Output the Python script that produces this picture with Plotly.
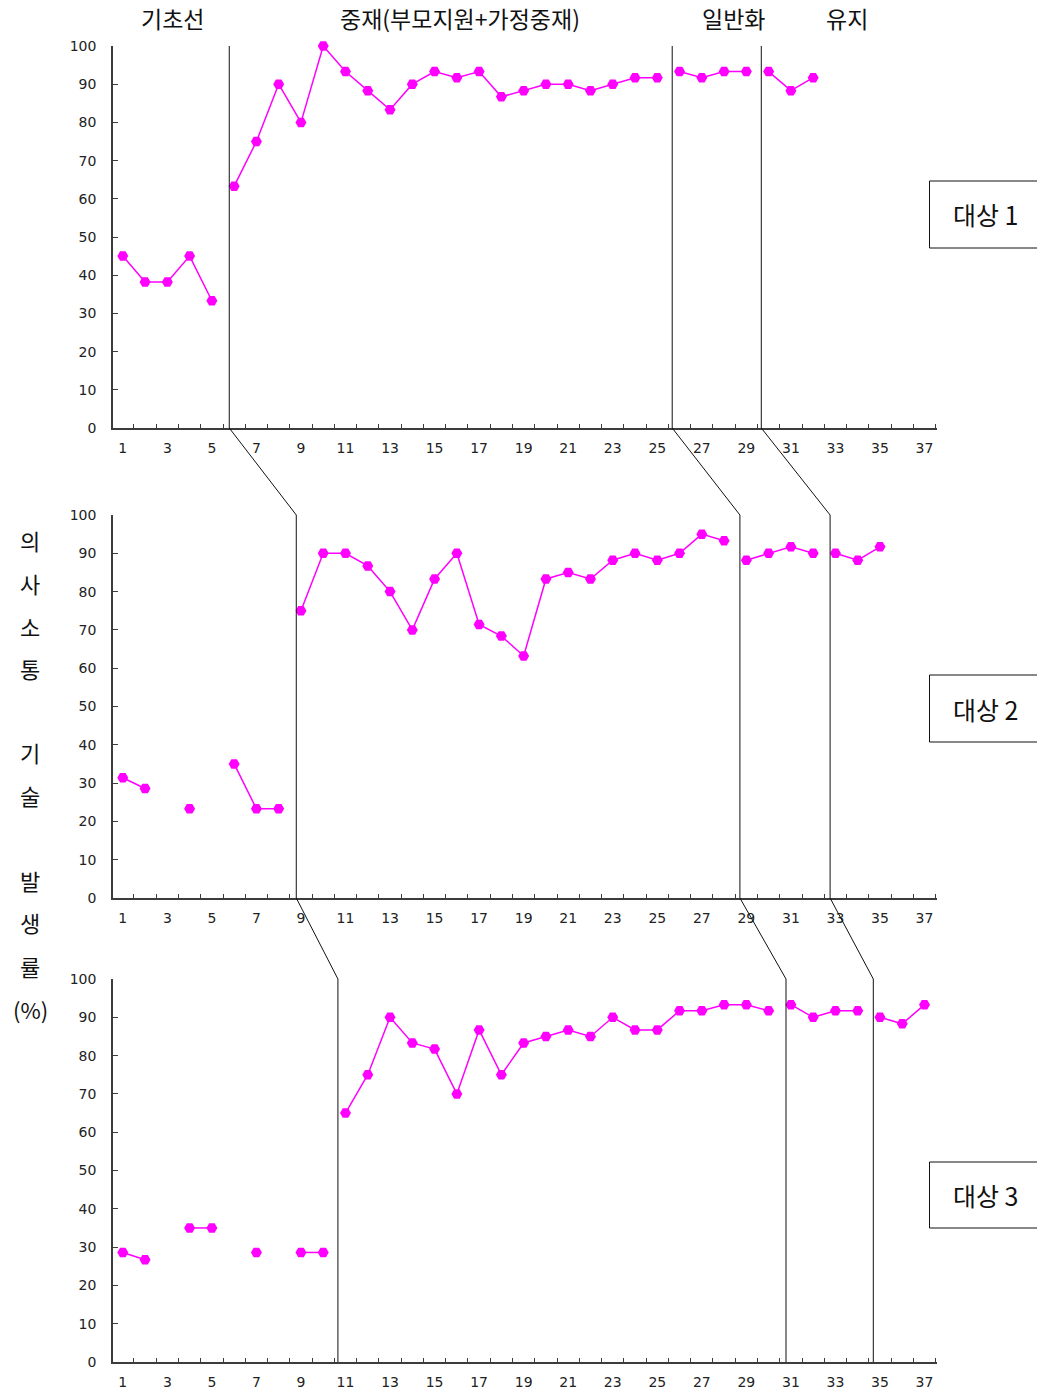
import plotly.graph_objects as go

# ---------------- data ----------------
sessions = list(range(1, 38))
x_tick_labels = [str(v) for v in range(1, 38, 2)]
y_ticks = list(range(0, 101, 10))

phase_names = ["기초선", "중재(부모지원+가정중재)", "일반화", "유지"]
subject_names = ["대상 1", "대상 2", "대상 3"]
y_title_chars = ["의", "사", "소", "통", "기", "술", "발", "생", "률", "(%)"]

s1_values = [45, 38.2, 38.2, 45, 33.3,
             63.3, 75, 90, 80, 100, 93.3, 88.3, 83.3, 90, 93.3, 91.7, 93.3, 86.7, 88.3, 90,
             90, 88.3, 90, 91.7, 91.7,
             93.3, 91.7, 93.3, 93.3,
             93.3, 88.3, 91.7]
s1_phase_starts = [1, 6, 26, 30]
s1_phase_lines = [5.78, 25.67, 29.67]

s2_values = [31.4, 28.6, None, 23.3, None, 35, 23.3, 23.3,
             75, 90, 90, 86.7, 80, 70, 83.3, 90, 71.4, 68.4, 63.2, 83.3,
             85, 83.3, 88.2, 90, 88.2, 90, 95, 93.3,
             88.2, 90, 91.7, 90,
             90, 88.2, 91.7]
s2_phase_starts = [1, 9, 29, 33]
s2_phase_lines = [8.79, 28.71, 32.76]

s3_values = [28.6, 26.7, None, 35, 35, None, 28.6, None, 28.6, 28.6,
             65, 75, 90, 83.3, 81.7, 70, 86.7, 75, 83.3, 85,
             86.7, 85, 90, 86.7, 86.7, 91.7, 91.7, 93.3, 93.3, 91.7,
             93.3, 90, 91.7, 91.7,
             90, 88.3, 93.3]
s3_phase_starts = [1, 11, 31, 35]
s3_phase_lines = [10.66, 30.78, 34.7]

subjects = [
    (s1_values, s1_phase_starts, s1_phase_lines),
    (s2_values, s2_phase_starts, s2_phase_lines),
    (s3_values, s3_phase_starts, s3_phase_lines),
]

# ---------------- layout geometry ----------------
REF_W, REF_H = 1037, 1393
VS = 1402.5 / 1393.0          # vertical compensation for the capture
W, H = REF_W, int(round(REF_H * VS))
ML, MR = 113, 100
MT = 46 * VS
MB = H - 1362 * VS
PW = W - ML - MR
PH = H - MT - MB


def px(p):
    return (p - ML) / PW


def py(p):
    return (H - MB - p * VS) / PH


panel_px = [(46, 428), (515, 898), (979, 1362)]  # top, bottom in reference pixels
domains = [[max(0.0, py(b)), min(1.0, py(t))] for t, b in panel_px]
box_px = [(181, 248), (675, 742), (1162, 1228)]

MAG = "#FF00FF"
AXC = "#3c3c3c"
tick_font = dict(family="DejaVu Sans, Verdana, sans-serif", size=14, color="#222")
kr_font = "Noto Sans CJK KR, Noto Sans CJK SC, sans-serif"

fig = go.Figure()
shapes = []
annotations = []

for i, (vals, starts, lines) in enumerate(subjects):
    ax = "" if i == 0 else str(i + 1)
    n = len(vals)
    bounds = starts + [n + 1]
    for k in range(len(starts)):
        a, b = bounds[k], bounds[k + 1]
        xs = sessions[a - 1:b - 1]
        ys = vals[a - 1:b - 1]
        fig.add_trace(go.Scatter(
            x=xs, y=ys, mode="lines+markers",
            line=dict(color=MAG, width=1.5),
            marker=dict(color=MAG, size=11, symbol="hexagon2"),
            connectgaps=False, cliponaxis=False, showlegend=False,
            hoverinfo="skip",
            xaxis="x" + ax, yaxis="y" + ax,
        ))

    fig.update_layout(**{
        "xaxis" + ax: dict(
            domain=[0, 1], anchor="y" + ax, range=[0.56, 37.56],
            tickmode="array", tickvals=list(range(1, 38, 2)), ticktext=x_tick_labels,
            ticks="", showgrid=False, zeroline=False,
            showline=True, linecolor=AXC, linewidth=1.5,
            tickfont=tick_font, ticklabelstandoff=6,
            minor=dict(tickmode="linear", tick0=0.5, dtick=1, ticks="inside",
                       ticklen=4, tickcolor=AXC, tickwidth=1, showgrid=False),
        ),
        "yaxis" + ax: dict(
            domain=domains[i], anchor="x" + ax, range=[0, 100],
            tickmode="array", tickvals=y_ticks,
            ticks="inside", ticklen=5, tickcolor=AXC, tickwidth=1,
            showgrid=False, zeroline=False,
            showline=True, linecolor=AXC, linewidth=1.5,
            tickfont=tick_font, ticklabelstandoff=12,
        ),
    })

    # phase change lines (vertical within panel)
    for lx in lines:
        shapes.append(dict(type="line", xref="x" + ax, yref="y" + ax,
                           x0=lx, x1=lx, y0=0, y1=100,
                           line=dict(color="#111", width=1)))

    # subject label box
    bt, bb = box_px[i]
    annotations.append(dict(
        text=subject_names[i], xref="paper", yref="paper",
        x=px(985), y=py((bt + bb) / 2), xanchor="center", yanchor="middle",
        showarrow=False, font=dict(family=kr_font, size=25, color="#111")))
    shapes.append(dict(type="rect", xref="paper", yref="paper",
                       x0=px(929.5), x1=px(1045), y0=py(bb), y1=py(bt),
                       line=dict(color="#111", width=1), fillcolor="rgba(0,0,0,0)"))

# diagonal connectors between panels
for i in range(2):
    for la, lb in zip(subjects[i][2], subjects[i + 1][2]):
        shapes.append(dict(type="line", xref="x", yref="paper",
                           x0=la, x1=lb, y0=domains[i][0], y1=domains[i + 1][1],
                           line=dict(color="#111", width=1)))

# phase headers
header_x = [172, 460, 733, 847]
for name, hx in zip(phase_names, header_x):
    annotations.append(dict(text=name, xref="paper", yref="paper",
                            x=px(hx), y=py(18), xanchor="center", yanchor="middle",
                            showarrow=False, font=dict(family=kr_font, size=23, color="#111")))

# vertical y title
title_y = [540, 583, 626, 668, 752, 795, 880, 922, 966, 1009]
for ch, ty in zip(y_title_chars, title_y):
    annotations.append(dict(text=ch, xref="paper", yref="paper",
                            x=px(30), y=py(ty), xanchor="center", yanchor="middle",
                            showarrow=False, font=dict(family=kr_font, size=22, color="#111")))

fig.update_layout(
    width=W, height=H,
    margin=dict(l=ML, r=MR, t=MT, b=MB),
    paper_bgcolor="white", plot_bgcolor="white",
    shapes=shapes, annotations=annotations,
    showlegend=False,
)

fig.write_html("out.html", config={"displayModeBar": False},
               post_script="document.body.style.margin='0px';")
